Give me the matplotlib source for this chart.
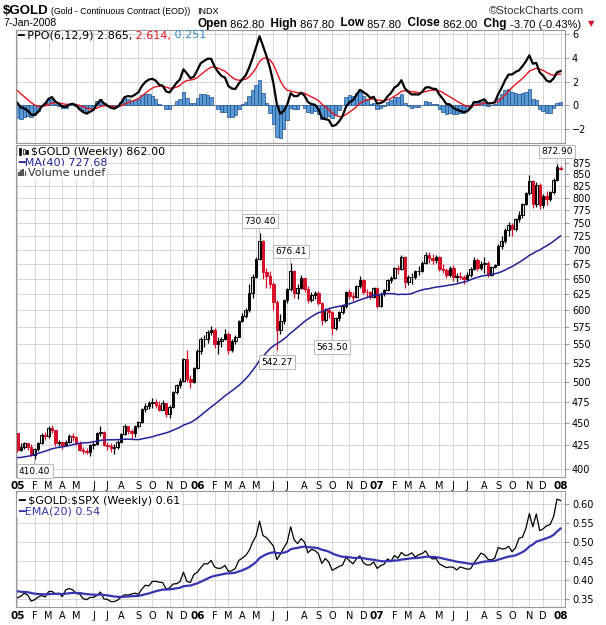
import matplotlib.pyplot as plt
import numpy as np
import pandas as pd
from matplotlib.patches import Rectangle

W, H = 606, 625

# weekly bars, Monday of each week, 3-Jan-2005 .. 7-Jan-2008
weeks = pd.date_range('2005-01-03', periods=158, freq='W-MON')

gold_open = [
    438.0, 419.5, 423.5, 427.5, 423.0, 415.0, 420.5, 427.0, 436.0, 435.0,
    444.0, 441.5, 427.0, 429.0, 425.0, 428.5, 435.5, 434.0, 428.0, 420.0,
    419.0, 418.0, 425.0, 426.0, 438.0, 440.0, 425.5, 424.0, 422.0, 423.0,
    429.0, 437.0, 446.0, 440.5, 438.5, 446.0, 451.0, 466.0, 470.0, 473.0,
    474.5, 471.0, 465.5, 473.0, 460.0, 469.0, 487.0, 495.5, 500.5, 530.0,
    503.0, 500.0, 518.0, 541.0, 557.0, 558.0, 568.0, 571.0, 551.0, 555.0,
    557.0, 565.0, 542.0, 555.0, 561.0, 584.0, 592.0, 601.0, 627.0, 654.0,
    684.0, 716.0, 662.0, 655.0, 641.0, 613.0, 570.0, 584.0, 616.0, 633.0,
    664.0, 627.0, 636.0, 651.0, 633.0, 616.0, 624.0, 627.0, 611.0, 586.0,
    600.0, 598.0, 574.0, 588.0, 597.0, 606.0, 628.0, 623.0, 621.0, 638.0,
    648.0, 629.0, 628.0, 621.0, 635.0, 607.0, 626.0, 632.0, 648.0, 652.0,
    668.0, 667.0, 687.0, 645.0, 653.0, 654.0, 663.0, 664.0, 678.0, 692.0,
    686.0, 682.0, 688.0, 667.0, 666.0, 656.0, 668.0, 654.0, 655.0, 654.0,
    650.0, 656.0, 667.0, 683.0, 668.0, 675.0, 678.0, 657.0, 670.0, 674.0,
    707.0, 716.0, 737.0, 747.0, 739.0, 757.0, 765.0, 788.0, 809.0, 836.0,
    787.0, 826.0, 785.0, 804.0, 797.0, 811.0, 838.0, 862.8]

gold_high = [
    438.5, 427.0, 428.5, 428.0, 426.5, 422.5, 428.5, 438.0, 439.5, 447.0,
    447.5, 442.0, 431.0, 430.0, 431.0, 437.5, 438.0, 435.5, 430.0, 423.5,
    422.5, 426.0, 428.5, 439.5, 447.0, 441.0, 429.0, 427.0, 426.0, 430.5,
    438.5, 448.5, 447.0, 443.0, 447.5, 452.5, 467.5, 473.0, 476.0, 480.0,
    478.0, 476.0, 477.0, 474.0, 470.5, 488.5, 497.0, 505.0, 531.0, 542.0,
    509.0, 519.0, 543.0, 560.0, 563.0, 570.0, 576.0, 574.0, 560.0, 561.0,
    572.0, 568.0, 558.0, 564.0, 586.0, 596.0, 603.0, 642.0, 658.0, 687.0,
    730.4, 718.0, 668.0, 664.0, 645.0, 616.0, 595.0, 618.0, 636.0, 676.41,
    666.0, 642.0, 656.0, 652.0, 638.0, 629.0, 631.0, 630.0, 613.0, 603.0,
    604.0, 599.0, 590.0, 599.0, 608.0, 630.0, 633.0, 628.0, 640.0, 655.0,
    650.0, 634.0, 630.0, 637.0, 637.0, 629.0, 634.0, 650.0, 655.0, 670.0,
    673.0, 692.0, 690.0, 656.0, 660.0, 665.0, 672.0, 680.0, 697.0, 697.0,
    693.0, 691.0, 690.0, 675.0, 668.0, 672.0, 673.0, 660.0, 662.0, 656.0,
    661.0, 670.0, 688.0, 686.0, 681.0, 687.0, 680.0, 672.0, 676.0, 710.0,
    725.0, 740.0, 752.0, 750.0, 760.0, 773.0, 790.0, 812.0, 848.0, 838.0,
    833.0, 830.0, 807.0, 813.0, 815.0, 842.0, 872.9, 867.8]

gold_low = [
    418.0, 418.5, 421.0, 420.0, 413.5, 410.4, 419.0, 426.0, 431.0, 433.5,
    438.0, 424.0, 424.5, 421.5, 424.0, 427.0, 430.0, 425.5, 418.5, 416.0,
    415.5, 414.0, 420.5, 425.0, 435.0, 424.0, 419.5, 418.0, 416.0, 421.0,
    428.0, 436.0, 437.5, 432.0, 434.0, 444.0, 449.5, 463.0, 466.0, 468.0,
    468.0, 464.0, 464.5, 456.5, 456.0, 467.0, 485.0, 492.0, 499.0, 500.0,
    491.5, 498.0, 517.0, 536.0, 546.0, 552.0, 563.0, 545.0, 537.0, 546.0,
    556.0, 536.5, 540.0, 551.0, 560.0, 582.0, 588.0, 598.0, 620.0, 652.0,
    682.0, 650.0, 636.0, 635.0, 600.0, 542.27, 565.0, 580.0, 612.0, 631.0,
    620.0, 617.0, 634.0, 628.0, 612.0, 613.0, 617.0, 608.0, 578.0, 583.0,
    588.0, 563.5, 570.0, 584.0, 594.0, 604.0, 617.0, 615.0, 620.0, 636.0,
    626.0, 620.0, 617.0, 619.0, 603.0, 605.0, 622.0, 630.0, 643.0, 650.0,
    658.0, 665.0, 636.0, 640.0, 642.0, 650.0, 657.0, 662.0, 676.0, 678.0,
    676.0, 677.0, 664.0, 660.0, 652.0, 654.0, 647.0, 645.0, 650.0, 642.0,
    648.0, 654.0, 665.0, 664.0, 665.0, 660.0, 654.0, 655.0, 668.0, 673.0,
    702.0, 712.0, 725.0, 725.0, 735.0, 752.0, 760.0, 785.0, 805.0, 780.0,
    782.0, 778.0, 780.0, 785.0, 793.0, 808.0, 835.0, 857.8]

gold_close = [
    419.5, 423.5, 427.5, 423.0, 415.0, 420.5, 427.0, 436.0, 435.0, 444.0,
    441.5, 427.0, 429.0, 425.0, 428.5, 435.5, 434.0, 428.0, 420.0, 419.0,
    418.0, 425.0, 426.0, 438.0, 440.0, 425.5, 424.0, 422.0, 423.0, 429.0,
    437.0, 446.0, 440.5, 438.5, 446.0, 451.0, 466.0, 470.0, 473.0, 474.5,
    471.0, 465.5, 473.0, 460.0, 469.0, 487.0, 495.5, 500.5, 530.0, 503.0,
    500.0, 518.0, 541.0, 557.0, 558.0, 568.0, 571.0, 551.0, 555.0, 557.0,
    565.0, 542.0, 555.0, 561.0, 584.0, 592.0, 601.0, 627.0, 654.0, 684.0,
    716.0, 662.0, 655.0, 641.0, 613.0, 570.0, 584.0, 616.0, 633.0, 664.0,
    627.0, 636.0, 651.0, 633.0, 616.0, 624.0, 627.0, 611.0, 586.0, 600.0,
    598.0, 574.0, 588.0, 597.0, 606.0, 628.0, 623.0, 621.0, 638.0, 648.0,
    629.0, 628.0, 621.0, 635.0, 607.0, 626.0, 632.0, 648.0, 652.0, 668.0,
    667.0, 687.0, 645.0, 653.0, 654.0, 663.0, 664.0, 678.0, 692.0, 686.0,
    682.0, 688.0, 667.0, 666.0, 656.0, 668.0, 654.0, 655.0, 654.0, 650.0,
    656.0, 667.0, 683.0, 668.0, 675.0, 678.0, 657.0, 670.0, 674.0, 707.0,
    716.0, 737.0, 747.0, 739.0, 757.0, 765.0, 788.0, 809.0, 836.0, 787.0,
    826.0, 785.0, 804.0, 797.0, 811.0, 838.0, 865.7, 862.0]

# 2004 weekly closes, only used to seed MA(40) and PPO (not drawn)
gold_close_2004 = [
    423, 416, 404, 396, 388, 380, 377, 385, 394, 391,
    385, 394, 402, 398, 407, 408, 391, 391, 399, 402,
    415, 408, 400, 405, 407, 409, 418, 421, 420, 425,
    430, 434, 438, 449, 452, 455, 436, 443, 442, 438]

gold_spx = [
    0.354, 0.358, 0.366, 0.361, 0.345, 0.349, 0.356, 0.360, 0.356, 0.370,
    0.371, 0.364, 0.366, 0.357, 0.375, 0.378, 0.375, 0.365, 0.364, 0.352,
    0.349, 0.355, 0.355, 0.360, 0.369, 0.351, 0.350, 0.344, 0.344, 0.348,
    0.356, 0.362, 0.361, 0.364, 0.366, 0.363, 0.377, 0.387, 0.385, 0.397,
    0.397, 0.395, 0.394, 0.377, 0.380, 0.390, 0.391, 0.396, 0.421, 0.397,
    0.394, 0.415, 0.421, 0.433, 0.443, 0.443, 0.452, 0.435, 0.431, 0.432,
    0.439, 0.423, 0.425, 0.431, 0.452, 0.458, 0.465, 0.478, 0.500, 0.516,
    0.555, 0.517, 0.512, 0.501, 0.490, 0.454, 0.468, 0.485, 0.500, 0.540,
    0.506, 0.496, 0.509, 0.500, 0.472, 0.481, 0.478, 0.470, 0.444, 0.457,
    0.448, 0.426, 0.431, 0.436, 0.440, 0.460, 0.451, 0.443, 0.456, 0.464,
    0.446, 0.440, 0.440, 0.448, 0.431, 0.438, 0.442, 0.456, 0.450, 0.465,
    0.458, 0.473, 0.465, 0.466, 0.472, 0.461, 0.467, 0.470, 0.477, 0.462,
    0.456, 0.457, 0.443, 0.438, 0.433, 0.435, 0.434, 0.427, 0.435, 0.432,
    0.429, 0.430, 0.445, 0.458, 0.471, 0.467, 0.455, 0.453, 0.458, 0.486,
    0.482, 0.483, 0.489, 0.475, 0.485, 0.510, 0.513, 0.536, 0.575, 0.540,
    0.574, 0.530, 0.535, 0.543, 0.546, 0.567, 0.613, 0.609]

# late-2004 ratio, only used to seed EMA(20)
gold_spx_2004 = [
    0.378, 0.378, 0.369, 0.359, 0.360, 0.360, 0.368, 0.370, 0.375, 0.379,
    0.388, 0.381, 0.372, 0.370, 0.383, 0.382, 0.382, 0.367, 0.371, 0.365, 0.361]

tag_high_idx = [70, 79, 156]
tag_low_idx = [5, 75, 91]

# indicators
n = len(gold_close)
closes_all = pd.Series(gold_close_2004 + gold_close, dtype=float)
ma40 = closes_all.rolling(40).mean().values[-n:]
ema6 = closes_all.ewm(span=6, adjust=False).mean()
ema12 = closes_all.ewm(span=12, adjust=False).mean()
ppo_all = (ema6 - ema12) / ema12 * 100
sig_all = ppo_all.ewm(span=9, adjust=False).mean()
ppo = ppo_all.values[-n:]
sig = sig_all.values[-n:]
hist = ppo - sig
ratio_all = pd.Series(gold_spx_2004 + gold_spx, dtype=float)
ema20 = ratio_all.ewm(span=20, adjust=False).mean().values[-n:]

o = np.array(gold_open)
h = np.array(gold_high)
l = np.array(gold_low)
c = np.array(gold_close)
x = np.arange(n)

fig = plt.figure(figsize=(W / 100, H / 100), dpi=100)


def box(top, bottom):
    return [16 / W, 1 - bottom / H, 549 / W, (bottom - top) / H]


def ftext(xp, yp, s, **kw):
    return fig.text(xp / W, 1 - yp / H, s, **kw)


ax_ppo = fig.add_axes(box(30, 143))
ax = fig.add_axes(box(145, 477))
ax_r = fig.add_axes(box(491, 607))

month_start = [i for i in range(n) if i == 0 or weeks[i].month != weeks[i - 1].month]
month_lab = [f"{weeks[i].year % 100:02d}" if weeks[i].month == 1 else weeks[i].strftime('%b')[0]
             for i in month_start]

for a in (ax_ppo, ax, ax_r):
    a.set_xlim(-0.4, 158.3)
    a.set_xticks(month_start)
    a.set_xticklabels(month_lab)
    a.grid(True, color='#d6d6d6', lw=0.7)
    a.set_axisbelow(True)
    a.yaxis.tick_right()
    a.tick_params(axis='y', length=3, width=0.6, colors='#888888', labelcolor='black',
                  labelsize=7, pad=2)
    a.tick_params(axis='x', length=0, labelsize=7, pad=3)
    for s in a.spines.values():
        s.set_color('#999999')
        s.set_linewidth(0.8)
    for t in a.get_xticklabels():
        if t.get_text().isdigit():
            t.set_fontweight('bold')
            t.set_fontsize(7.5)
ax_ppo.tick_params(axis='x', labelbottom=False)

# PPO panel
ax_ppo.bar(x, hist, width=1.0, color='#5b9bd5', edgecolor='#1d4f8f', lw=0.5)
ax_ppo.plot(x, sig, color='#e8141e', lw=1.0)
ax_ppo.plot(x, ppo, color='black', lw=1.6)
ax_ppo.set_ylim(-3.18, 6.34)
ax_ppo.set_yticks([-2, 0, 2, 4, 6])

# candles
prev = np.r_[o[0], c[:-1]]
edge = np.where(c >= prev, 'black', '#d7102a')
face = np.where(c > o, 'white', edge)
ax.vlines(x, l, h, colors=edge, lw=0.9)
ax.bar(x, np.maximum(np.abs(c - o), 0.8), bottom=np.minimum(o, c), width=0.72,
       color=face, edgecolor=edge, lw=0.7)
ax.plot(x, ma40, color='#22229a', lw=1.1)
ax.set_yscale('log')
ax.set_ylim(391.9, 915.5)
ticks = list(range(400, 876, 25))
ax.set_yticks(ticks)
ax.set_yticklabels([str(t) for t in ticks])
ax.minorticks_off()

tag_box = dict(boxstyle='square,pad=0.25', fc='white', ec='#b0b0b0', lw=0.6)
for i in tag_high_idx:
    ax.annotate(f"{h[i]:.2f}", xy=(i, h[i]), xytext=(0, 5.5), textcoords='offset points',
                ha='center', va='bottom', fontsize=6.5, bbox=tag_box,
                arrowprops=dict(arrowstyle='-', color='#b0b0b0', lw=0.6, shrinkA=0, shrinkB=0))
for i in tag_low_idx:
    ax.annotate(f"{l[i]:.2f}", xy=(i, l[i]), xytext=(0, -5.5), textcoords='offset points',
                ha='center', va='top', fontsize=6.5, bbox=tag_box,
                arrowprops=dict(arrowstyle='-', color='#b0b0b0', lw=0.6, shrinkA=0, shrinkB=0))

# ratio panel
ax_r.plot(x, gold_spx, color='black', lw=0.9)
ax_r.plot(x, ema20, color='#3535b0', lw=1.6)
ax_r.set_ylim(0.3298, 0.6341)
rt = [0.35, 0.40, 0.45, 0.50, 0.55, 0.60]
ax_r.set_yticks(rt)
ax_r.set_yticklabels([f"{v:.2f}" for v in rt])


def chain(prev, s, **kw):
    return ax_ppo.annotate(s, xy=(1, 0), xycoords=prev, va='bottom', ha='left',
                           annotation_clip=False, **kw)


# header
hf = 'Liberation Sans'
ftext(3, 11, '$GOLD', fontsize=9.5, fontweight='bold', family=hf, va='center')
ftext(51, 12, '(Gold - Continuous Contract (EOD))', fontsize=6.3, family=hf, va='center')
ftext(197, 12, 'INDX', fontsize=6.5, family=hf, va='center')
ftext(584, 11, '\u00a9StockCharts.com', fontsize=8.2, family=hf, va='center', ha='right',
      color='#333333')
ftext(3, 23.5, '7-Jan-2008', fontsize=7.6, family=hf, va='center')
hdr = [('Open', True), (' 862.80', False), ('  High', True), (' 867.80', False),
       ('  Low', True), (' 857.80', False), ('  Close', True), (' 862.00', False),
       ('  Chg', True), (' -3.70 (-0.43%)', False)]
prev_t = None
for s, b in hdr:
    kw = dict(fontsize=8.5 if b else 8, fontweight='bold' if b else 'normal', family=hf)
    if prev_t is None:
        prev_t = ftext(197, 29.5, s, va='bottom', **kw)
    else:
        prev_t = chain(prev_t, s, **kw)
ftext(591, 23.5, '\u25bc', fontsize=6, color='#d7102a', va='center', ha='center')

lf = 8
t1 = ftext(17, 40.5, '\u2501 PPO(6,12,9) 2.865,', fontsize=lf, va='bottom')
t2 = chain(t1, ' 2.614,', fontsize=lf, color='#e8141e')
chain(t2, ' 0.251', fontsize=lf, color='#2a8ad0')

# main legend
bg = dict(boxstyle='square,pad=0.1', fc='white', ec='none')
for xa, ya, hh, fill in [(18.5, 148, 7, 'black'), (22.5, 149, 5, 'white'), (26, 150, 4, 'black')]:
    fig.add_artist(Rectangle((xa / W, 1 - (ya + hh) / H), 2 / W, hh / H, fc=fill, ec='black', lw=0.5))
ftext(31, 152, '$GOLD (Weekly) 862.00', fontsize=lf, va='center', bbox=bg)
ftext(18, 162.5, '\u2501MA(40) 727.68', fontsize=lf, va='center', color='#22229a', bbox=bg)
for k, hh in enumerate([4, 6, 8, 5]):
    fig.add_artist(Rectangle(((18 + 2.2 * k) / W, 1 - 176 / H), 1.6 / W, hh / H,
                             fc='#555555', ec='none'))
ftext(28, 172.5, 'Volume undef', fontsize=lf, va='center', color='#333333', bbox=bg)

# ratio legend
ftext(18, 501.5, '\u2501 \\$GOLD:\\$SPX (Weekly) 0.61', fontsize=lf, va='center', bbox=bg)
ftext(18, 511, '\u2501EMA(20) 0.54', fontsize=lf, va='center', color='#3535b0', bbox=bg)

fig.savefig('out.png', dpi=100)
